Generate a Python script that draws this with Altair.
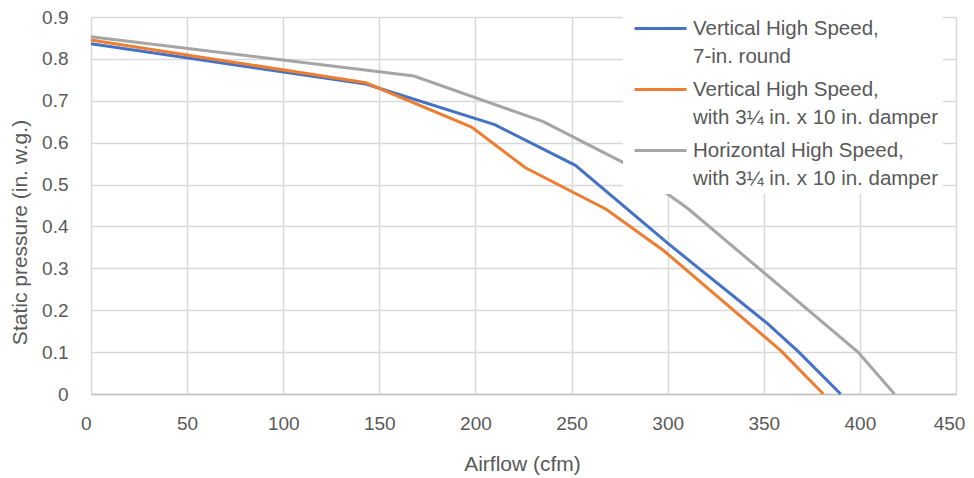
import altair as alt
import pandas as pd

FONT = "Liberation Sans"
TXT = "#595959"

series_names = [
    "Vertical High Speed,|7-in. round",
    "Vertical High Speed,|with 3\u00bc in. x 10 in. damper",
    "Horizontal High Speed,|with 3\u00bc in. x 10 in. damper",
]
series_colors = ["#4472C4", "#ED7D31", "#A5A5A5"]

blue_x = [0, 143, 210, 252, 300, 352, 368, 390]
blue_y = [0.836, 0.740, 0.643, 0.546, 0.360, 0.168, 0.101, 0.0]
orange_x = [0, 143, 198, 226, 268, 298, 359, 381]
orange_y = [0.845, 0.743, 0.637, 0.540, 0.441, 0.342, 0.103, 0.0]
gray_x = [0, 168, 235, 278, 311, 399, 418]
gray_y = [0.853, 0.759, 0.651, 0.550, 0.441, 0.100, 0.0]

x_ticks = [0, 50, 100, 150, 200, 250, 300, 350, 400, 450]
y_ticks = [0, 0.1, 0.2, 0.3, 0.4, 0.5, 0.6, 0.7, 0.8, 0.9]

rows = []
for name, xs, ys in zip(series_names, [blue_x, orange_x, gray_x], [blue_y, orange_y, gray_y]):
    for i, (a, b) in enumerate(zip(xs, ys)):
        rows.append({"series": name, "airflow": a, "pressure": b, "i": i})
df = pd.DataFrame(rows)

legend = alt.Legend(
    title=None,
    orient="none",
    legendX=532,
    legendY=-15,
    direction="vertical",
    fillColor="white",
    padding=5,
    symbolType="M-1.3,0L1.3,0",
    symbolSize=1600,
    symbolStrokeWidth=3,
    symbolOffset=11,
    labelFont=FONT,
    labelFontSize=20.5,
    labelColor=TXT,
    labelLimit=400,
    labelOffset=11,
    labelBaseline="middle",
    labelExpr="split(datum.label, '|')",
    rowPadding=1,
)

chart = alt.Chart(df).mark_line(strokeWidth=3).encode(
    x=alt.X(
        "airflow:Q",
        scale=alt.Scale(domain=[0, 450], nice=False, zero=False),
        axis=alt.Axis(
            values=x_ticks,
            title="Airflow (cfm)",
            titleX=431,
            titleY=70,
            titleBaseline="middle",
            labelPadding=20,
            labelAlign={"condition": {"test": "datum.value == 0", "value": "right"}, "value": "center"},
            labelOffset={"condition": {"test": "datum.value == 450", "value": -7}, "value": 0},
            tickSize=0,
            ticks=False,
            domainColor="#bfbfbf",
            domainWidth=1.5,
        ),
    ),
    y=alt.Y(
        "pressure:Q",
        scale=alt.Scale(domain=[0, 0.9], nice=False, zero=False),
        axis=alt.Axis(
            values=y_ticks,
            title="Static pressure (in. w.g.)",
            titleX=-71,
            titleY=215,
            titleAngle=270,
            titleAlign="center",
            titleBaseline="middle",
            labelExpr="datum.value == 0 ? '0' : format(datum.value, '.1f')",
            labelPadding=23,
            tickSize=0,
            ticks=False,
            domain=False,
        ),
    ),
    color=alt.Color(
        "series:N",
        scale=alt.Scale(domain=series_names, range=series_colors),
        legend=legend,
    ),
    order="i:Q",
).properties(
    width=865,
    height=377,
    autosize=alt.AutoSizeParams(type="none"),
    padding={"left": 83, "top": 9, "right": 10, "bottom": 100},
).configure(
    style={"guide-label": {"lineHeight": 28}}
).configure_view(
    stroke=None
).configure_axis(
    gridColor="#d9d9d9",
    gridWidth=1.5,
    labelFont=FONT,
    labelFontSize=19,
    labelColor=TXT,
    titleFont=FONT,
    titleFontSize=21,
    titleColor=TXT,
    titleFontWeight="normal",
)

chart.save("out.html", embed_options={"renderer": "svg", "actions": False})
